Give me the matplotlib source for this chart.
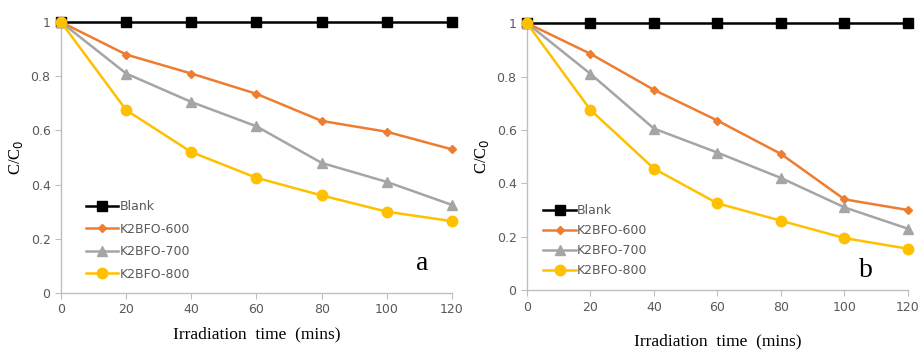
import matplotlib
matplotlib.use("Agg")
import matplotlib.pyplot as plt

time = [0, 20, 40, 60, 80, 100, 120]
labels = ["Blank", "K2BFO-600", "K2BFO-700", "K2BFO-800"]

a_blank = [1, 1, 1, 1, 1, 1, 1]
a_600 = [1, 0.88, 0.81, 0.735, 0.635, 0.595, 0.53]
a_700 = [1, 0.81, 0.705, 0.615, 0.48, 0.41, 0.325]
a_800 = [1, 0.675, 0.52, 0.425, 0.36, 0.30, 0.265]

b_blank = [1, 1, 1, 1, 1, 1, 1]
b_600 = [1, 0.885, 0.75, 0.635, 0.51, 0.34, 0.30]
b_700 = [1, 0.81, 0.605, 0.515, 0.42, 0.31, 0.23]
b_800 = [1, 0.675, 0.455, 0.325, 0.26, 0.195, 0.155]

xticks = [0, 20, 40, 60, 80, 100, 120]
yticks = [0, 0.2, 0.4, 0.6, 0.8, 1]
yticklabels = ["0", "0.2", "0.4", "0.6", "0.8", "1"]

styles = [
    dict(color="#000000", marker="s", ms=7),
    dict(color="#ED7D31", marker="D", ms=4.5),
    dict(color="#A5A5A5", marker="^", ms=6.5),
    dict(color="#FFC000", marker="o", ms=7.5),
]

fig = plt.figure(figsize=(9.19, 3.5), dpi=100)
ax_a = fig.add_axes([0.0664, 0.163, 0.4254, 0.774])
ax_b = fig.add_axes([0.5734, 0.171, 0.4146, 0.763])

tick_color = "#595959"
serif = ["Liberation Serif", "DejaVu Serif"]

def draw(ax, series, letter, letter_xy, legend_anchor, xlabelpad, spacing):
    for ys, st, lab in zip(series, styles, labels):
        ax.plot(time, ys, color=st["color"], marker=st["marker"], ms=st["ms"],
                lw=1.8, label=lab, clip_on=False, zorder=3)
    ax.set_xlim(0, 120)
    ax.set_ylim(0, 1)
    ax.set_xticks(xticks)
    ax.set_yticks(yticks)
    ax.set_yticklabels(yticklabels)
    for s in ["top", "right"]:
        ax.spines[s].set_visible(False)
    for s in ["left", "bottom"]:
        ax.spines[s].set_color("#BFBFBF")
        ax.spines[s].set_linewidth(1.0)
    ax.tick_params(colors="#BFBFBF", labelcolor=tick_color, labelsize=9,
                   length=4, direction="out")
    ax.set_xlabel("Irradiation  time  (mins)", fontfamily=serif, fontsize=12.5,
                  labelpad=xlabelpad)
    ax.set_ylabel("C/C$_0$", fontfamily=serif, fontsize=12, labelpad=4)
    ax.legend(loc="upper left", bbox_to_anchor=legend_anchor, frameon=False,
              fontsize=9, labelcolor=tick_color, handlelength=2.6,
              handletextpad=0.1, labelspacing=spacing, borderaxespad=0)
    ax.text(letter_xy[0], letter_xy[1], letter, transform=ax.transAxes,
            fontfamily=serif, fontsize=20, ha="center", va="center")

draw(ax_a, [a_blank, a_600, a_700, a_800], "a", (0.925, 0.11), (0.05, 0.36), 7, 0.75)
draw(ax_b, [b_blank, b_600, b_700, b_800], "b", (0.89, 0.075), (0.03, 0.34), 14, 0.55)

fig.savefig("out.png", dpi=100)
